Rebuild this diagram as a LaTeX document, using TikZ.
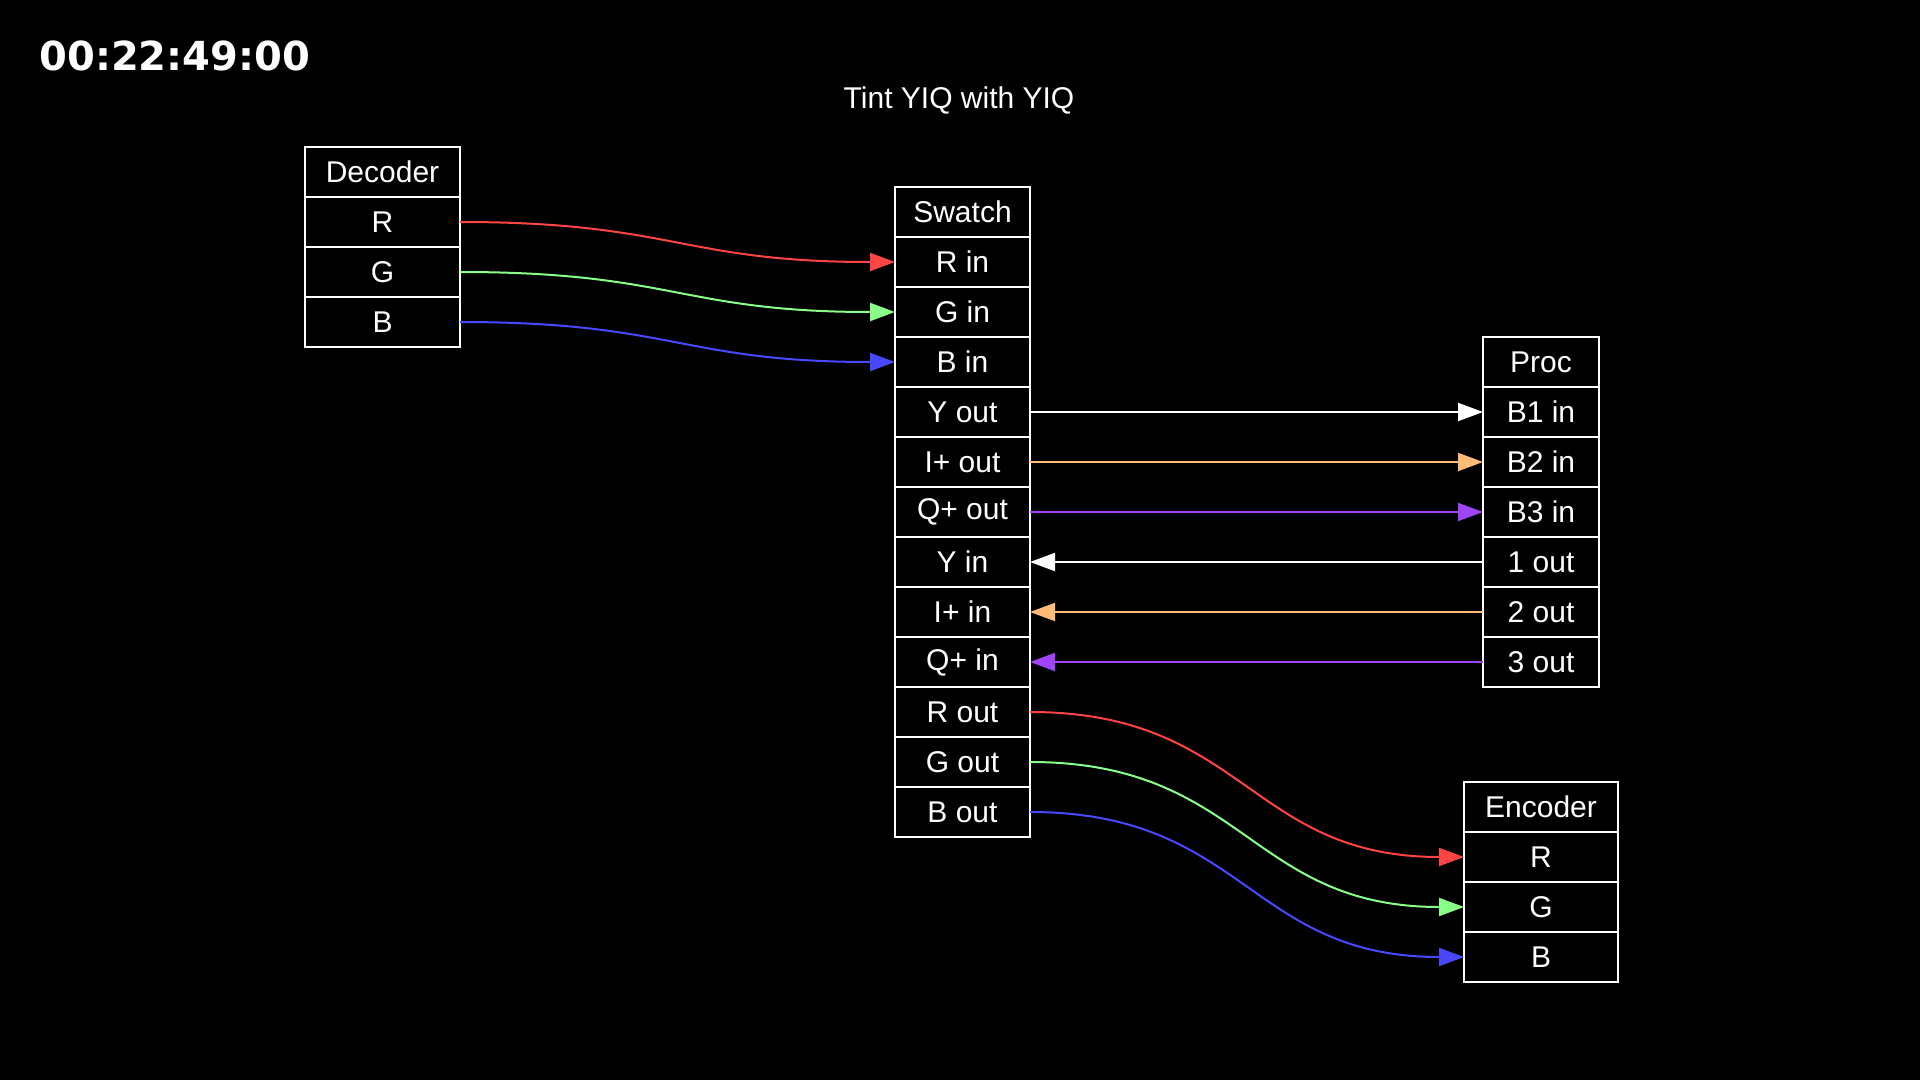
\documentclass[tikz,border=0pt]{standalone}
\usepackage{fontspec}
\setmainfont{Liberation Sans}
\newfontfamily\clockfont{DejaVu Sans}
\usetikzlibrary{positioning,arrows.meta}
\definecolor{wirered}{HTML}{FF4444}
\definecolor{wiregreen}{HTML}{88FF88}
\definecolor{wireblue}{HTML}{4848FF}
\definecolor{wireorange}{HTML}{FFBB77}
\definecolor{wirepurple}{HTML}{A044F8}
\tikzset{
  cell/.style={draw=white, line width=1pt, text=white, outer sep=0pt, inner sep=0pt,
    minimum height=25pt, font=\fontsize{15}{18}\selectfont},
  decbox/.style={cell, minimum width=77.5pt},
  swbox/.style={cell, minimum width=67.5pt},
  procbox/.style={cell, minimum width=58pt},
  encbox/.style={cell, minimum width=77pt},
  wire/.style={line width=1pt, ->},
}
\begin{document}
\begin{tikzpicture}[x=0.5pt, y=-0.5pt, >={Triangle[length=12.5pt,width=9pt]}]
  \fill[black] (0,0) rectangle (1920,1080);
  \useasboundingbox (0,0) rectangle (1920,1080);
  % Clock and title
  \node[anchor=base west, inner sep=0pt, text=white,
    font=\clockfont\bfseries\fontsize{20}{24}\selectfont] (clock) at (39,71) {00:22:49:00};
  \node[anchor=base, inner sep=0pt, text=white,
    font=\fontsize{15}{18}\selectfont] (title) at (959,109) {Tint YIQ with YIQ};
  % Decoder
  \node[decbox] (dec) at (382.5,172) {Decoder};
  \node[decbox, below=0pt of dec] (decR) {R};
  \node[decbox, below=0pt of decR] (decG) {G};
  \node[decbox, below=0pt of decG] (decB) {B};
  % Swatch
  \node[swbox] (sw) at (962.5,212) {Swatch};
  \node[swbox, below=0pt of sw] (swRin) {R in};
  \node[swbox, below=0pt of swRin] (swGin) {G in};
  \node[swbox, below=0pt of swGin] (swBin) {B in};
  \node[swbox, below=0pt of swBin] (swYout) {Y out};
  \node[swbox, below=0pt of swYout] (swIout) {I+ out};
  \node[swbox, below=0pt of swIout] (swQout) {Q+ out};
  \node[swbox, below=0pt of swQout] (swYin) {Y in};
  \node[swbox, below=0pt of swYin] (swIin) {I+ in};
  \node[swbox, below=0pt of swIin] (swQin) {Q+ in};
  \node[swbox, below=0pt of swQin] (swRout) {R out};
  \node[swbox, below=0pt of swRout] (swGout) {G out};
  \node[swbox, below=0pt of swGout] (swBout) {B out};
  % Proc
  \node[procbox] (proc) at (1541,362) {Proc};
  \node[procbox, below=0pt of proc] (procBa) {B1 in};
  \node[procbox, below=0pt of procBa] (procBb) {B2 in};
  \node[procbox, below=0pt of procBb] (procBc) {B3 in};
  \node[procbox, below=0pt of procBc] (procOa) {1 out};
  \node[procbox, below=0pt of procOa] (procOb) {2 out};
  \node[procbox, below=0pt of procOb] (procOc) {3 out};
  % Encoder
  \node[encbox] (enc) at (1541,807) {Encoder};
  \node[encbox, below=0pt of enc] (encR) {R};
  \node[encbox, below=0pt of encR] (encG) {G};
  \node[encbox, below=0pt of encG] (encB) {B};
  % Decoder to Swatch
  \draw[wire, wirered] (decR.east) to[out=0, in=180, looseness=1.25] (swRin.west);
  \draw[wire, wiregreen] (decG.east) to[out=0, in=180, looseness=1.25] (swGin.west);
  \draw[wire, wireblue] (decB.east) to[out=0, in=180, looseness=1.25] (swBin.west);
  % Swatch and Proc
  \draw[wire, white] (swYout.east) -- (procBa.west);
  \draw[wire, wireorange] (swIout.east) -- (procBb.west);
  \draw[wire, wirepurple] (swQout.east) -- (procBc.west);
  \draw[wire, white] (procOa.west) -- (swYin.east);
  \draw[wire, wireorange] (procOb.west) -- (swIin.east);
  \draw[wire, wirepurple] (procOc.west) -- (swQin.east);
  % Swatch to Encoder
  \draw[wire, wirered] (swRout.east) to[out=0, in=180, looseness=1.2] (encR.west);
  \draw[wire, wiregreen] (swGout.east) to[out=0, in=180, looseness=1.2] (encG.west);
  \draw[wire, wireblue] (swBout.east) to[out=0, in=180, looseness=1.2] (encB.west);
\end{tikzpicture}
\end{document}
